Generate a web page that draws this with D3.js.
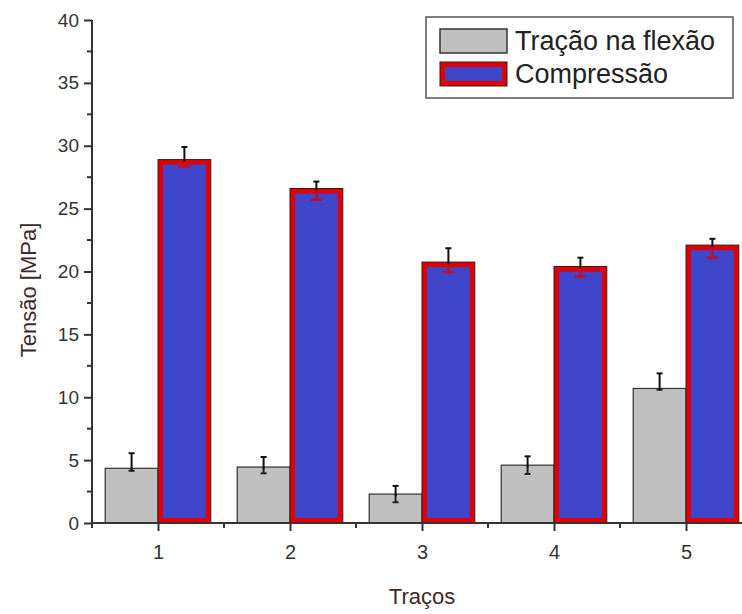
<!DOCTYPE html>
<html>
<head>
<meta charset="utf-8">
<script src="https://cdn.jsdelivr.net/npm/d3@7"></script>
<style>
  body { margin: 0; background: #fff; }
  text { font-family: Arial, "Liberation Sans", sans-serif; }
</style>
</head>
<body>
<svg id="chart" width="742" height="614"></svg>
<script>
var categories = [1, 2, 3, 4, 5];
var tracao = [4.35, 4.45, 2.3, 4.6, 10.7];
var tracaoErrUp = [1.2, 0.8, 0.65, 0.7, 1.2];
var tracaoErrDown = [0.2, 0.5, 0.65, 0.7, 0.1];
var compressao = [28.9, 26.6, 20.75, 20.4, 22.1];
var compressaoErrUp = [1.0, 0.55, 1.1, 0.7, 0.5];
var compressaoErrDown = [0.55, 0.9, 0.8, 0.8, 1.0];
var yTicks = [0, 5, 10, 15, 20, 25, 30, 35, 40];
var seriesNames = ['Tração na flexão', 'Compressão'];

var svg = d3.select('#chart');

var x = d3.scaleLinear().domain([0.5, 5.5]).range([92, 752]);
var y = d3.scaleLinear().domain([0, 40]).range([523, 20]);
var half = 0.4;

var gray = '#c0c0c0', blue = '#3f46c9', red = '#e00000', ink = '#333', title = '#3f2a2a';

// gray bars
svg.selectAll('.bar-t').data(categories)
  .enter().append('rect')
  .attr('class', 'bar-t')
  .attr('x', function(d) { return x(d - half); })
  .attr('y', function(d, i) { return y(tracao[i]); })
  .attr('width', function(d) { return x(d) - x(d - half); })
  .attr('height', function(d, i) { return y(0) - y(tracao[i]); })
  .attr('fill', gray)
  .attr('stroke', ink)
  .attr('stroke-width', 1.2);

// blue bars, thick red border, thin dark edge
var sw = 5;
svg.selectAll('.bar-c-edge').data(categories)
  .enter().append('rect')
  .attr('class', 'bar-c-edge')
  .attr('x', function(d) { return x(d); })
  .attr('y', function(d, i) { return y(compressao[i]); })
  .attr('width', function(d) { return x(d + half) - x(d); })
  .attr('height', function(d, i) { return y(0) - y(compressao[i]); })
  .attr('fill', red)
  .attr('stroke', '#3a1a1a')
  .attr('stroke-width', 1);
svg.selectAll('.bar-c').data(categories)
  .enter().append('rect')
  .attr('class', 'bar-c')
  .attr('x', function(d) { return x(d) + sw; })
  .attr('y', function(d, i) { return y(compressao[i]) + sw; })
  .attr('width', function(d) { return x(d + half) - x(d) - 2 * sw; })
  .attr('height', function(d, i) { return y(0) - y(compressao[i]) - 2 * sw; })
  .attr('fill', blue);

// error bars: upper half in black, lower half in the bar's edge colour
var errorBars = function(cls, vals, up, down, dx, lowColor, lowCap) {
  var g = svg.selectAll('.' + cls).data(categories)
    .enter().append('g')
    .attr('class', cls);
  var cx = function(d) { return x(d + dx); };
  g.append('line')
    .attr('x1', cx).attr('x2', cx)
    .attr('y1', function(d, i) { return y(vals[i]); })
    .attr('y2', function(d, i) { return y(vals[i] - down[i]); })
    .attr('stroke', lowColor).attr('stroke-width', 2);
  g.append('line')
    .attr('x1', function(d) { return cx(d) - lowCap; })
    .attr('x2', function(d) { return cx(d) + lowCap; })
    .attr('y1', function(d, i) { return y(vals[i] - down[i]); })
    .attr('y2', function(d, i) { return y(vals[i] - down[i]); })
    .attr('stroke', lowColor).attr('stroke-width', 2);
  g.append('line')
    .attr('x1', cx).attr('x2', cx)
    .attr('y1', function(d, i) { return y(vals[i] + up[i]); })
    .attr('y2', function(d, i) { return y(vals[i]) + 2; })
    .attr('stroke', '#111').attr('stroke-width', 2);
  g.append('line')
    .attr('x1', function(d) { return cx(d) - 3; })
    .attr('x2', function(d) { return cx(d) + 3; })
    .attr('y1', function(d, i) { return y(vals[i] + up[i]); })
    .attr('y2', function(d, i) { return y(vals[i] + up[i]); })
    .attr('stroke', '#111').attr('stroke-width', 2);
};
errorBars('err-t', tracao, tracaoErrUp, tracaoErrDown, -half / 2, '#222', 3);
errorBars('err-c', compressao, compressaoErrUp, compressaoErrDown, half / 2, red, 6);

// y axis
var yAxis = d3.axisLeft(y).tickValues(yTicks).tickSize(8).tickPadding(5);
var gy = svg.append('g').attr('transform', 'translate(' + x(0.5) + ',0)').call(yAxis);
gy.select('.domain').attr('stroke', ink).attr('stroke-width', 2).attr('d', 'M0,' + y(0) + 'V' + y(40));
gy.selectAll('.tick line').attr('stroke', ink).attr('stroke-width', 2);
gy.selectAll('.tick text').attr('fill', ink).style('font-size', '19px');
var yMinor = d3.range(2.5, 40, 5);
gy.selectAll('.minor').data(yMinor).enter().append('line')
  .attr('class', 'minor')
  .attr('x1', -5).attr('x2', 0)
  .attr('y1', function(d) { return y(d); }).attr('y2', function(d) { return y(d); })
  .attr('stroke', ink).attr('stroke-width', 2);

// x axis
var xAxis = d3.axisBottom(x).tickValues(categories).tickFormat(d3.format('d')).tickSize(8).tickPadding(14);
var gx = svg.append('g').attr('transform', 'translate(0,' + y(0) + ')').call(xAxis);
gx.select('.domain').attr('stroke', ink).attr('stroke-width', 2).attr('d', 'M' + x(0.5) + ',0H' + x(5.5));
gx.selectAll('.tick line').attr('stroke', ink).attr('stroke-width', 2);
gx.selectAll('.tick text').attr('fill', ink).style('font-size', '20px');
var xMinor = [0.5, 1.5, 2.5, 3.5, 4.5];
gx.selectAll('.minor').data(xMinor).enter().append('line')
  .attr('class', 'minor')
  .attr('x1', function(d) { return x(d); }).attr('x2', function(d) { return x(d); })
  .attr('y1', 0).attr('y2', 5)
  .attr('stroke', ink).attr('stroke-width', 2);

// axis titles
svg.append('text')
  .attr('transform', 'translate(36,290) rotate(-90)')
  .attr('text-anchor', 'middle')
  .attr('fill', title)
  .style('font-size', '22px')
  .text('Tensão [MPa]');
svg.append('text')
  .attr('x', x(3)).attr('y', 604)
  .attr('text-anchor', 'middle')
  .attr('fill', title)
  .style('font-size', '22px')
  .text('Traços');

// legend
var lg = svg.append('g').attr('transform', 'translate(426,17)');
lg.append('rect')
  .attr('width', 307).attr('height', 81)
  .attr('fill', '#fff').attr('stroke', '#555').attr('stroke-width', 1.5);
lg.append('rect')
  .attr('x', 14).attr('y', 12).attr('width', 67).attr('height', 24)
  .attr('fill', gray).attr('stroke', ink).attr('stroke-width', 1.5);
lg.append('rect')
  .attr('x', 14).attr('y', 45).attr('width', 67).attr('height', 24)
  .attr('fill', red).attr('stroke', '#3a1a1a').attr('stroke-width', 1);
lg.append('rect')
  .attr('x', 19).attr('y', 50).attr('width', 57).attr('height', 14)
  .attr('fill', blue);
lg.selectAll('.lbl').data(seriesNames).enter().append('text')
  .attr('class', 'lbl')
  .attr('x', 89)
  .attr('y', function(d, i) { return 33 + i * 33; })
  .attr('fill', '#222')
  .style('font-size', '27px')
  .text(function(d) { return d; });
</script>
</body>
</html>
